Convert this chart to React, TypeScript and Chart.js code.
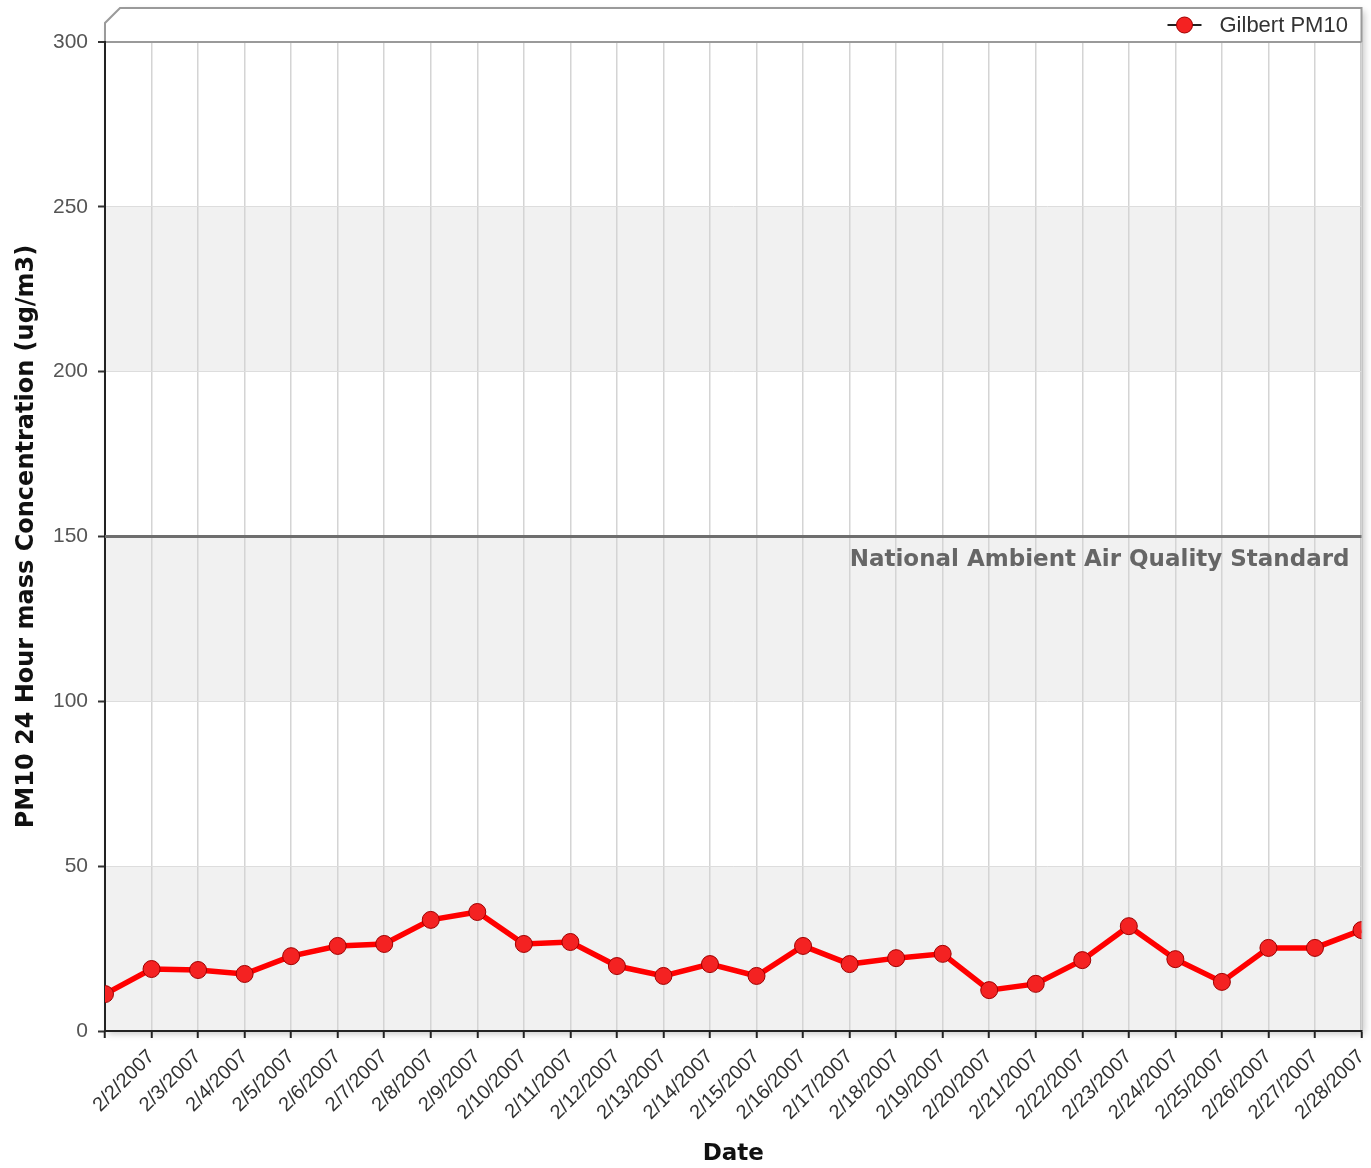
import React, { useEffect, useRef } from "react";
import { Chart, registerables } from "chart.js";

Chart.register(...registerables);

const dates: string[] = [
  "2/1/2007", "2/2/2007", "2/3/2007", "2/4/2007", "2/5/2007", "2/6/2007", "2/7/2007",
  "2/8/2007", "2/9/2007", "2/10/2007", "2/11/2007", "2/12/2007", "2/13/2007", "2/14/2007",
  "2/15/2007", "2/16/2007", "2/17/2007", "2/18/2007", "2/19/2007", "2/20/2007", "2/21/2007",
  "2/22/2007", "2/23/2007", "2/24/2007", "2/25/2007", "2/26/2007", "2/27/2007", "2/28/2007",
];

const pm10Values: number[] = [
  11.2, 18.8, 18.5, 17.3, 22.7, 25.8, 26.4, 33.7, 36.1, 26.4, 27.0, 19.7, 16.7, 20.3,
  16.7, 25.8, 20.3, 22.1, 23.4, 12.4, 14.3, 21.5, 31.8, 21.8, 14.9, 25.2, 25.2, 30.6,
];

const seriesName = "Gilbert PM10";
const yTitle = "PM10 24 Hour mass Concentration (ug/m3)";
const xTitle = "Date";
const standardValue = 150;
const standardLabel = "National Ambient Air Quality Standard";
const bandEdges: number[] = [0, 50, 100, 150, 200, 250, 300];

const framePlugin = {
  id: "framePlugin",
  beforeDraw(chart: any) {
    const { ctx, chartArea } = chart;
    const { left, right, top, bottom } = chartArea;
    const y = chart.scales.y;
    ctx.save();
    ctx.shadowColor = "rgba(0,0,0,0.22)";
    ctx.shadowBlur = 7;
    ctx.shadowOffsetX = 3;
    ctx.shadowOffsetY = 3;
    ctx.fillStyle = "#ffffff";
    ctx.beginPath();
    ctx.moveTo(left, top - 19);
    ctx.lineTo(left + 15, top - 34);
    ctx.lineTo(right, top - 34);
    ctx.lineTo(right, bottom);
    ctx.lineTo(left, bottom);
    ctx.closePath();
    ctx.fill();
    ctx.restore();

    ctx.save();
    for (let i = 0; i < bandEdges.length - 1; i++) {
      if (i % 2 === 0) {
        const yb = y.getPixelForValue(bandEdges[i]);
        const yt = y.getPixelForValue(bandEdges[i + 1]);
        ctx.fillStyle = "#f1f1f1";
        ctx.fillRect(left, yt, right - left, yb - yt);
      }
    }
    ctx.strokeStyle = "#9a9a9a";
    ctx.lineWidth = 2;
    ctx.beginPath();
    ctx.moveTo(left, top);
    ctx.lineTo(left, top - 19);
    ctx.lineTo(left + 15, top - 34);
    ctx.lineTo(right, top - 34);
    ctx.lineTo(right, bottom);
    ctx.stroke();
    ctx.restore();
  },
  beforeDatasetsDraw(chart: any) {
    const { ctx, chartArea } = chart;
    const { left, right } = chartArea;
    const yp = chart.scales.y.getPixelForValue(standardValue);
    ctx.save();
    ctx.strokeStyle = "#6e6e6e";
    ctx.lineWidth = 3;
    ctx.beginPath();
    ctx.moveTo(left, yp);
    ctx.lineTo(right, yp);
    ctx.stroke();
    ctx.fillStyle = "#666666";
    ctx.font = "bold 23px 'DejaVu Sans'";
    ctx.textAlign = "right";
    ctx.textBaseline = "middle";
    ctx.fillText(standardLabel, right - 12, yp + 24);
    ctx.restore();
  },
  afterDraw(chart: any) {
    const { ctx, chartArea } = chart;
    const { right } = chartArea;
    ctx.save();
    const cy = 25;
    const cx = right - 177;
    ctx.strokeStyle = "#222";
    ctx.lineWidth = 2;
    ctx.beginPath();
    ctx.moveTo(cx - 17, cy);
    ctx.lineTo(cx + 17, cy);
    ctx.stroke();
    ctx.beginPath();
    ctx.arc(cx, cy, 8, 0, Math.PI * 2);
    ctx.fillStyle = "#f42222";
    ctx.fill();
    ctx.strokeStyle = "#a00000";
    ctx.lineWidth = 1;
    ctx.stroke();
    ctx.fillStyle = "#333";
    ctx.font = "22px 'Liberation Sans'";
    ctx.textAlign = "left";
    ctx.textBaseline = "middle";
    ctx.fillText(seriesName, cx + 35, cy + 1);
    ctx.restore();
  },
};

export default function App() {
  const canvasRef = useRef<HTMLCanvasElement | null>(null);

  useEffect(() => {
    if (!canvasRef.current) return;
    const chart = new Chart(canvasRef.current, {
      type: "line",
      data: {
        labels: dates,
        datasets: [
          {
            label: seriesName,
            data: pm10Values,
            borderColor: "#ff0000",
            borderWidth: 5.5,
            pointRadius: 8.5,
            pointHoverRadius: 8.5,
            pointBackgroundColor: "#f42222",
            pointBorderColor: "#a00000",
            pointBorderWidth: 1,
            tension: 0,
            clip: 0,
          } as any,
        ],
      },
      options: {
        animation: false,
        responsive: false,
        devicePixelRatio: 1,
        layout: { padding: { top: 42, right: 9, left: 0, bottom: 0 } },
        plugins: {
          legend: { display: false },
          tooltip: { enabled: false },
        },
        scales: {
          x: {
            type: "category",
            offset: false,
            grid: {
              color: "#d4d4d4",
              lineWidth: 1.5,
              tickLength: 7,
              tickColor: "#222",
              tickWidth: 2,
            },
            border: { color: "#222", width: 2 },
            ticks: {
              autoSkip: false,
              maxRotation: 45,
              minRotation: 45,
              padding: 7,
              color: "#333",
              font: { family: "'Liberation Sans'", size: 20 },
              callback: (_v: any, i: number) => (i === 0 ? "" : dates[i]),
            },
            title: {
              display: true,
              text: xTitle,
              color: "#111",
              font: { family: "'DejaVu Sans'", size: 23, weight: "bold" },
              padding: { top: 0, bottom: 0 },
            },
            afterFit: (scale: any) => {
              scale.height = 137;
              scale.paddingRight = 0;
              scale.paddingLeft = 0;
            },
          } as any,
          y: {
            min: 0,
            max: 300,
            ticks: {
              stepSize: 50,
              padding: 10,
              color: "#555",
              font: { family: "'Liberation Sans'", size: 21 },
            },
            grid: {
              color: (c: any) => (c.tick && c.tick.value === 300 ? "#9a9a9a" : "#dddddd"),
              lineWidth: (c: any) => (c.tick && c.tick.value === 300 ? 2 : 1),
              tickLength: 7,
              tickColor: "#333",
              tickWidth: 2,
            },
            border: { color: "#222", width: 2 },
            title: {
              display: true,
              text: yTitle,
              color: "#111",
              font: { family: "'DejaVu Sans'", size: 24, weight: "bold" },
              padding: { top: 12, bottom: 0 },
            },
            afterFit: (scale: any) => {
              scale.width = 105;
              scale.paddingTop = 0;
              scale.paddingBottom = 0;
            },
          } as any,
        },
      },
      plugins: [framePlugin],
    });
    return () => chart.destroy();
  }, []);

  return (
    <div style={{ position: "absolute", left: 0, top: 0, width: 1371, height: 1168 }}>
      <canvas ref={canvasRef} width={1371} height={1168} />
    </div>
  );
}
